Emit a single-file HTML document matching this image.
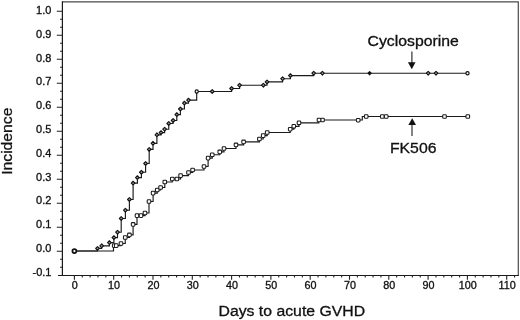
<!DOCTYPE html>
<html><head><meta charset="utf-8"><style>
html,body{margin:0;padding:0;background:#fff;}
body{width:520px;height:320px;overflow:hidden;font-family:"Liberation Sans",sans-serif;}
svg{display:block;font-family:"Liberation Sans",sans-serif;filter:grayscale(1);}
</style></head><body><svg width="520" height="320" viewBox="0 0 520 320"><path d="M62.4 1.8H518.3V275.5" fill="none" stroke="#4a4a4a" stroke-width="1.2"/><path d="M62.4 1.3V275.5M58 275.5H518.9" fill="none" stroke="#1a1a1a" stroke-width="1.2"/><path d="M56.8 251.2H62.4M60 259.2H62.4M60 267.2H62.4M56.8 227.2H62.4M60 235.2H62.4M60 243.2H62.4M56.8 203.2H62.4M60 211.2H62.4M60 219.2H62.4M56.8 179.2H62.4M60 187.2H62.4M60 195.2H62.4M56.8 155.2H62.4M60 163.2H62.4M60 171.2H62.4M56.8 131.2H62.4M60 139.2H62.4M60 147.2H62.4M56.8 107.2H62.4M60 115.2H62.4M60 123.2H62.4M56.8 83.2H62.4M60 91.2H62.4M60 99.2H62.4M56.8 59.2H62.4M60 67.2H62.4M60 75.2H62.4M56.8 35.2H62.4M60 43.2H62.4M60 51.2H62.4M56.8 11.2H62.4M60 19.2H62.4M60 27.2H62.4M74.4 275.5V279.7M82.26 275.5V277.5M90.12 275.5V277.5M97.98 275.5V277.5M105.84 275.5V277.5M113.7 275.5V279.7M121.56 275.5V277.5M129.42 275.5V277.5M137.28 275.5V277.5M145.14 275.5V277.5M153 275.5V279.7M160.86 275.5V277.5M168.72 275.5V277.5M176.58 275.5V277.5M184.44 275.5V277.5M192.3 275.5V279.7M200.16 275.5V277.5M208.02 275.5V277.5M215.88 275.5V277.5M223.74 275.5V277.5M231.6 275.5V279.7M239.46 275.5V277.5M247.32 275.5V277.5M255.18 275.5V277.5M263.04 275.5V277.5M270.9 275.5V279.7M278.76 275.5V277.5M286.62 275.5V277.5M294.48 275.5V277.5M302.34 275.5V277.5M310.2 275.5V279.7M318.06 275.5V277.5M325.92 275.5V277.5M333.78 275.5V277.5M341.64 275.5V277.5M349.5 275.5V279.7M357.36 275.5V277.5M365.22 275.5V277.5M373.08 275.5V277.5M380.94 275.5V277.5M388.8 275.5V279.7M396.66 275.5V277.5M404.52 275.5V277.5M412.38 275.5V277.5M420.24 275.5V277.5M428.1 275.5V279.7M435.96 275.5V277.5M443.82 275.5V277.5M451.68 275.5V277.5M459.54 275.5V277.5M467.4 275.5V279.7M475.26 275.5V277.5M483.12 275.5V277.5M490.98 275.5V277.5M498.84 275.5V277.5M506.7 275.5V279.7M514.56 275.5V277.5" fill="none" stroke="#222" stroke-width="1.1"/><g font-size="10" fill="#111" stroke="#111" stroke-width="0.3"><text transform="translate(51.4 275.75) scale(1.1 1)" text-anchor="end">-0.1</text><text transform="translate(51.4 251.95) scale(1.1 1)" text-anchor="end">0.0</text><text transform="translate(51.4 228.15) scale(1.1 1)" text-anchor="end">0.1</text><text transform="translate(51.4 204.35) scale(1.1 1)" text-anchor="end">0.2</text><text transform="translate(51.4 180.55) scale(1.1 1)" text-anchor="end">0.3</text><text transform="translate(51.4 156.75) scale(1.1 1)" text-anchor="end">0.4</text><text transform="translate(51.4 132.95) scale(1.1 1)" text-anchor="end">0.5</text><text transform="translate(51.4 109.15) scale(1.1 1)" text-anchor="end">0.6</text><text transform="translate(51.4 85.35) scale(1.1 1)" text-anchor="end">0.7</text><text transform="translate(51.4 61.55) scale(1.1 1)" text-anchor="end">0.8</text><text transform="translate(51.4 37.75) scale(1.1 1)" text-anchor="end">0.9</text><text transform="translate(51.4 13.95) scale(1.1 1)" text-anchor="end">1.0</text><text transform="translate(74.8 288.5) scale(1.08 1)" text-anchor="middle">0</text><text transform="translate(114.1 288.5) scale(1.08 1)" text-anchor="middle">10</text><text transform="translate(153.4 288.5) scale(1.08 1)" text-anchor="middle">20</text><text transform="translate(192.7 288.5) scale(1.08 1)" text-anchor="middle">30</text><text transform="translate(232 288.5) scale(1.08 1)" text-anchor="middle">40</text><text transform="translate(271.3 288.5) scale(1.08 1)" text-anchor="middle">50</text><text transform="translate(310.6 288.5) scale(1.08 1)" text-anchor="middle">60</text><text transform="translate(349.9 288.5) scale(1.08 1)" text-anchor="middle">70</text><text transform="translate(389.2 288.5) scale(1.08 1)" text-anchor="middle">80</text><text transform="translate(428.5 288.5) scale(1.08 1)" text-anchor="middle">90</text><text transform="translate(467.8 288.5) scale(1.08 1)" text-anchor="middle">100</text><text transform="translate(507.1 288.5) scale(1.08 1)" text-anchor="middle">110</text></g><path d="M74.4 251H97.5V248.4H101.7V245.8H109.4V242.6H113.9V237.6H117.5V232.2H121.2V218.5H125.4V210.2H129.4V199.5H133.1V183.1H137.4V177.6H141.4V172.25H145.6V163.5H149.2V149.4H153V143.3H156.9V134.8H161V132.6H164.6V129.2H168.75V123.5H173.1V120.5H176.8V114.6H180.4V109H184.4V103.1H188.5V100.1H196.7V91.5H231.6V88.5H239.6V85.2H267V81.9H282.6V78.7H290.4V75.6H313.7V73.2H468.3" fill="none" stroke="#1a1a1a" stroke-width="1.15"/><path d="M74.4 251H113.5V245.6H121V243.5H125.25V237.5H129.4V234.9H133.1V224.4H137V215.6H145V213H149V201.5H153.1V193.1H157.25V190H160.6V187.5H164.8V182H172.3V179H180.6V175.6H188.5V172.5H192.6V170H204V166.5H208.1V158.1H212.25V154.75H219.75V151.9H224V148.5H236V144.9H243.6V141.9H259.4V139H263.2V135.6H267.2V132.5H290.2V129.2H293.8V126.3H299V122.8H318.8V120H362.3V116.5H468.5" fill="none" stroke="#1a1a1a" stroke-width="1.15"/><g fill="#999" stroke="#111" stroke-width="1.1" stroke-linejoin="round"><path d="M97.5 246.55L99.35 248.4L97.5 250.25L95.65 248.4Z"/><path d="M101.7 243.95L103.55 245.8L101.7 247.65L99.85 245.8Z"/><path d="M109.4 240.75L111.25 242.6L109.4 244.45L107.55 242.6Z"/><path d="M113.9 235.75L115.75 237.6L113.9 239.45L112.05 237.6Z"/><path d="M117.5 230.35L119.35 232.2L117.5 234.05L115.65 232.2Z"/><path d="M121.2 216.65L123.05 218.5L121.2 220.35L119.35 218.5Z"/><path d="M125.4 208.35L127.25 210.2L125.4 212.05L123.55 210.2Z"/><path d="M129.4 197.65L131.25 199.5L129.4 201.35L127.55 199.5Z"/><path d="M133.1 181.25L134.95 183.1L133.1 184.95L131.25 183.1Z"/><path d="M137.4 175.75L139.25 177.6L137.4 179.45L135.55 177.6Z"/><path d="M141.4 170.4L143.25 172.25L141.4 174.1L139.55 172.25Z"/><path d="M145.6 161.65L147.45 163.5L145.6 165.35L143.75 163.5Z"/><path d="M149.2 147.55L151.05 149.4L149.2 151.25L147.35 149.4Z"/><path d="M153 141.45L154.85 143.3L153 145.15L151.15 143.3Z"/><path d="M156.9 132.95L158.75 134.8L156.9 136.65L155.05 134.8Z"/><path d="M161 130.75L162.85 132.6L161 134.45L159.15 132.6Z"/><path d="M164.6 127.35L166.45 129.2L164.6 131.05L162.75 129.2Z"/><path d="M168.75 121.65L170.6 123.5L168.75 125.35L166.9 123.5Z"/><path d="M173.1 118.65L174.95 120.5L173.1 122.35L171.25 120.5Z"/><path d="M176.8 112.75L178.65 114.6L176.8 116.45L174.95 114.6Z"/><path d="M180.4 107.15L182.25 109L180.4 110.85L178.55 109Z"/><path d="M184.4 101.25L186.25 103.1L184.4 104.95L182.55 103.1Z"/><path d="M188.5 98.25L190.35 100.1L188.5 101.95L186.65 100.1Z"/><circle cx="196.7" cy="91.5" r="1.6" fill="#fff" stroke-width="1.2"/><path d="M231.6 86.65L233.45 88.5L231.6 90.35L229.75 88.5Z"/><path d="M239.6 83.35L241.45 85.2L239.6 87.05L237.75 85.2Z"/><path d="M267 80.05L268.85 81.9L267 83.75L265.15 81.9Z"/><path d="M282.6 76.85L284.45 78.7L282.6 80.55L280.75 78.7Z"/><path d="M290.4 73.75L292.25 75.6L290.4 77.45L288.55 75.6Z"/><path d="M313.7 71.35L315.55 73.2L313.7 75.05L311.85 73.2Z"/><path d="M212.2 89.65L214.05 91.5L212.2 93.35L210.35 91.5Z"/><path d="M263.4 83.35L265.25 85.2L263.4 87.05L261.55 85.2Z"/><path d="M322.4 71.35L324.25 73.2L322.4 75.05L320.55 73.2Z"/><path d="M369.6 71.6L371.2 73.2L369.6 74.8L368 73.2Z" fill="#111"/><path d="M428.2 71.35L430.05 73.2L428.2 75.05L426.35 73.2Z"/><path d="M436 71.35L437.85 73.2L436 75.05L434.15 73.2Z"/><circle cx="467.5" cy="73.2" r="1.6" fill="#fff" stroke-width="1.2"/></g><g fill="#fff" stroke="#1a1a1a" stroke-width="1.05"><rect x="112.4" y="243.8" width="3.6" height="3.6" rx="0.9"/><rect x="114.4" y="243.8" width="3.6" height="3.6" rx="0.9"/><rect x="119.2" y="241.7" width="3.6" height="3.6" rx="0.9"/><rect x="123.45" y="235.7" width="3.6" height="3.6" rx="0.9"/><rect x="127.6" y="233.1" width="3.6" height="3.6" rx="0.9"/><rect x="131.3" y="222.6" width="3.6" height="3.6" rx="0.9"/><rect x="135.2" y="213.8" width="3.6" height="3.6" rx="0.9"/><rect x="143.2" y="211.2" width="3.6" height="3.6" rx="0.9"/><rect x="147.2" y="199.7" width="3.6" height="3.6" rx="0.9"/><rect x="151.3" y="191.3" width="3.6" height="3.6" rx="0.9"/><rect x="155.45" y="188.2" width="3.6" height="3.6" rx="0.9"/><rect x="158.8" y="185.7" width="3.6" height="3.6" rx="0.9"/><rect x="163" y="180.2" width="3.6" height="3.6" rx="0.9"/><rect x="170.5" y="177.2" width="3.6" height="3.6" rx="0.9"/><rect x="178.8" y="173.8" width="3.6" height="3.6" rx="0.9"/><rect x="186.7" y="170.7" width="3.6" height="3.6" rx="0.9"/><rect x="190.8" y="168.2" width="3.6" height="3.6" rx="0.9"/><rect x="202.2" y="164.7" width="3.6" height="3.6" rx="0.9"/><rect x="206.3" y="156.3" width="3.6" height="3.6" rx="0.9"/><rect x="210.45" y="152.95" width="3.6" height="3.6" rx="0.9"/><rect x="217.95" y="150.1" width="3.6" height="3.6" rx="0.9"/><rect x="222.2" y="146.7" width="3.6" height="3.6" rx="0.9"/><rect x="234.2" y="143.1" width="3.6" height="3.6" rx="0.9"/><rect x="241.8" y="140.1" width="3.6" height="3.6" rx="0.9"/><rect x="257.6" y="137.2" width="3.6" height="3.6" rx="0.9"/><rect x="261.4" y="133.8" width="3.6" height="3.6" rx="0.9"/><rect x="265.4" y="130.7" width="3.6" height="3.6" rx="0.9"/><rect x="288.4" y="127.4" width="3.6" height="3.6" rx="0.9"/><rect x="292" y="124.5" width="3.6" height="3.6" rx="0.9"/><rect x="297.2" y="121" width="3.6" height="3.6" rx="0.9"/><rect x="139.2" y="213.8" width="3.6" height="3.6" rx="0.9"/><rect x="175.1" y="177.2" width="3.6" height="3.6" rx="0.9"/><rect x="320.7" y="118.2" width="3.6" height="3.6" rx="0.9"/><rect x="356.4" y="118.4" width="3.6" height="3.6" rx="0.9"/><rect x="364.4" y="114.7" width="3.6" height="3.6" rx="0.9"/><rect x="380.5" y="114.7" width="3.6" height="3.6" rx="0.9"/><rect x="384.4" y="114.7" width="3.6" height="3.6" rx="0.9"/><rect x="442.7" y="114.7" width="3.6" height="3.6" rx="0.9"/><rect x="466" y="114.7" width="3.6" height="3.6" rx="0.9"/><rect x="317.2" y="118.2" width="3.6" height="3.6" rx="0.9"/></g><circle cx="74.4" cy="251.1" r="2" fill="#fff" stroke="#111" stroke-width="1.7"/><g font-size="15.8" fill="#111" stroke="#111" stroke-width="0.3"><text transform="translate(367.5 46.4) scale(1.09 1)" font-size="14.5">Cyclosporine</text><text transform="translate(389.9 152.6) scale(1.04 1)" font-size="15.2">FK506</text><text transform="translate(218.5 316.4) scale(1.09 1)" font-size="14.5">Days to acute GVHD</text><text transform="translate(11.7 141.2) rotate(-90) scale(1.1 1)" font-size="14.3" text-anchor="middle">Incidence</text></g><g fill="#111" stroke="#333"><path d="M411.9 51.4V63" stroke-width="1.2" fill="none"/><path d="M407.9 62.3H415.5L411.8 69.3Z" stroke="none"/><path d="M412 136V124" stroke-width="1.2" fill="none"/><path d="M408.4 125.1H416L412.2 118.3Z" stroke="none"/></g></svg></body></html>
